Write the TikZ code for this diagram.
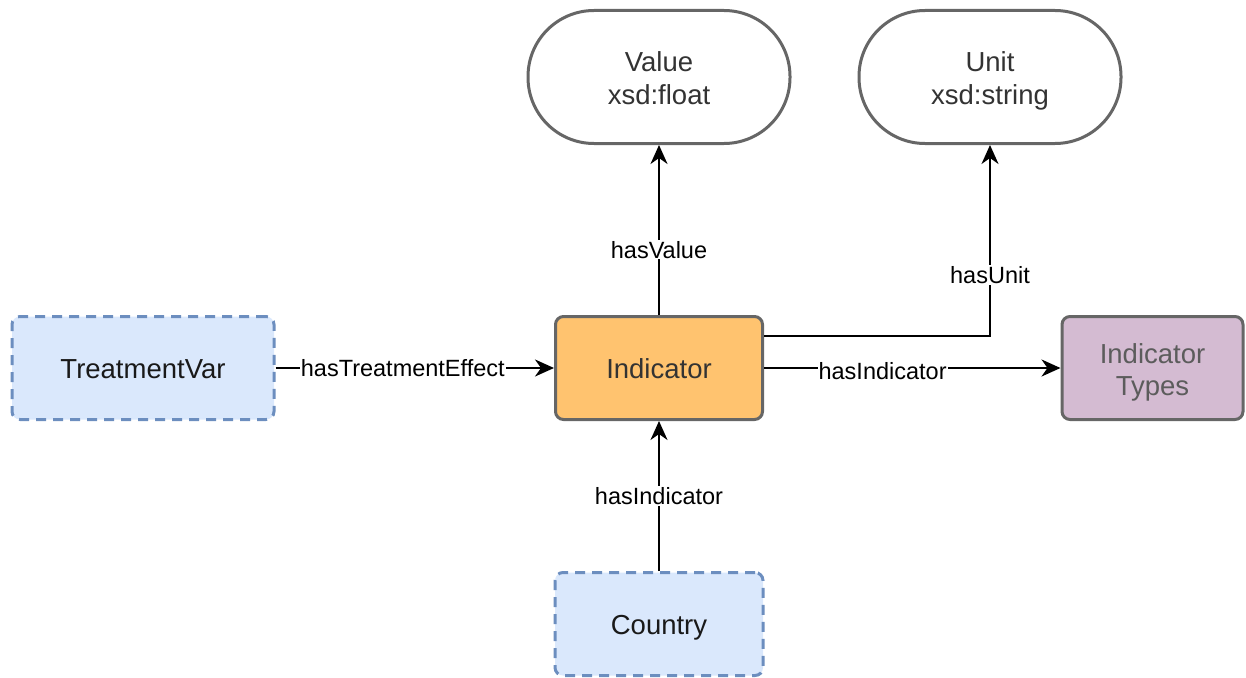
\documentclass[tikz,border=0pt]{standalone}
\usepackage{fontspec}
\setmainfont{Liberation Sans}
\usetikzlibrary{arrows.meta}
\definecolor{extfill}{HTML}{DAE8FC}
\definecolor{extline}{HTML}{6C8EBF}
\definecolor{indfill}{HTML}{FFC36F}
\definecolor{typefill}{HTML}{D4BBD2}
\definecolor{boxline}{HTML}{666666}
\definecolor{txt}{HTML}{333333}
% two centred lines, baseline on the first one
\newcommand{\twolines}[2]{\begin{tabular}[t]{@{}c@{}}#1\\#2\end{tabular}}
\begin{document}
\begin{tikzpicture}[x=1pt,y=-1pt,
  nodefont/.style={font=\fontsize{27.5}{33}\selectfont, text=txt},
  oneline/.style={text height=26pt, text depth=6pt},
  twoline/.style={text height=24pt, text depth=36pt},
  literal/.style={nodefont, twoline, draw=boxline, line width=3pt, fill=white,
    rounded corners=66pt, minimum width=262pt, minimum height=133pt},
  classbox/.style={nodefont, draw=boxline, line width=3pt,
    rounded corners=8pt, minimum height=103pt},
  extbox/.style={nodefont, oneline, text=black!90, draw=extline, fill=extfill, line width=3pt,
    dash pattern=on 10pt off 7pt, rounded corners=8pt, minimum height=103pt},
  rel/.style={line width=2.2pt, -{Stealth[length=19pt,width=17pt,inset=6pt]}},
  lbl/.style={font=\fontsize{23.5}{28}\selectfont, fill=white, inner sep=1pt, text=black}]
\useasboundingbox (0,0) rectangle (1246,677);

% literal values
\node[literal] (val)  at (659,77)  {\twolines{Value}{xsd:float}};
\node[literal] (unit) at (990,77)  {\twolines{Unit}{xsd:string}};

% classes
\node[classbox, oneline, fill=indfill, minimum width=207pt] (ind) at (659,368) {Indicator};
\node[classbox, fill=typefill, minimum width=181pt, text=txt!80,
  font=\fontsize{27.5}{32}\selectfont, text height=25pt, text depth=35pt]
  (types) at (1152.5,368) {\twolines{Indicator}{Types}};
\node[extbox, minimum width=262pt] (tv)  at (143,368) {TreatmentVar};
\node[extbox, minimum width=208pt] (cty) at (659,624) {Country};

% properties
\draw[rel] (tv) -- node[lbl, pos=0.457] {hasTreatmentEffect} (ind);
\draw[rel] (ind.north) -- node[lbl, pos=0.384] {hasValue} (val.south);
\draw[rel] ([yshift=32pt]ind.east) -| node[lbl, pos=0.66] {hasUnit} (unit.south);
\draw[rel] (ind) -- node[lbl, pos=0.4, yshift=-3pt] {hasIndicator} (types);
\draw[rel] (cty.north) -- node[lbl] {hasIndicator} (ind.south);
\end{tikzpicture}
\end{document}
